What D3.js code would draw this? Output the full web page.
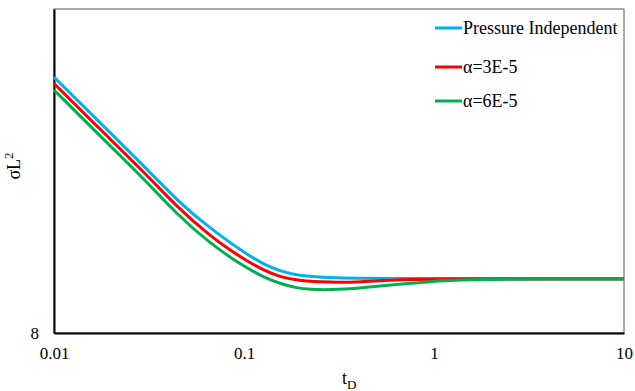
<!DOCTYPE html>
<html>
<head>
<meta charset="utf-8">
<script src="https://cdn.jsdelivr.net/npm/d3@7"></script>
<style>
  body { margin: 0; background: #fff; }
  svg text { font-family: "Liberation Serif", "Times New Roman", serif; fill: #000; }
</style>
</head>
<body>
<div id="wrapper"></div>
<script>
// DATA
const seriesNames = ["Pressure Independent", "\u03b1=3E-5", "\u03b1=6E-5"]
const seriesColors = ["#00b0f0", "#ff0000", "#00b050"]

const tBlue = [0.01, 0.0175, 0.0294, 0.046, 0.066, 0.0844, 0.104, 0.126, 0.155, 0.19, 0.284, 0.662, 10]
const vBlue = [49.3, 35.6, 26.4, 20.1, 16.9, 15.2, 14.0, 13.06, 12.43, 12.04, 11.82, 11.78, 11.78]

const tRed = [0.01, 0.0175, 0.0294, 0.046, 0.066, 0.0844, 0.104, 0.126, 0.155, 0.19, 0.284, 0.408, 0.662, 1.21, 10]
const vRed = [47.1, 34.0, 25.3, 19.2, 16.0, 14.4, 13.35, 12.52, 11.91, 11.62, 11.45, 11.5, 11.7, 11.74, 11.74]

const tGreen = [0.01, 0.0175, 0.0294, 0.046, 0.066, 0.0844, 0.104, 0.126, 0.155, 0.19, 0.222, 0.284, 0.408, 0.662, 1.21, 2.22, 10]
const vGreen = [45.0, 32.4, 24.1, 18.2, 15.2, 13.7, 12.7, 11.91, 11.37, 11.0, 10.9, 10.86, 11.0, 11.33, 11.66, 11.74, 11.74]

const xTicks = [0.01, 0.1, 1, 10]
const xTickLabels = ["0.01", "0.1", "1", "10"]
const yTicks = [8]
const yDomain = [8, 80]

// DIMENSIONS
const width = 635
const height = 391
const margin = { top: 9, right: 11, bottom: 58, left: 54 }
const boundedWidth = width - margin.left - margin.right
const boundedHeight = height - margin.top - margin.bottom
const serif = "'Liberation Serif', 'Times New Roman', serif"

const svg = d3.select("#wrapper").append("svg")
  .attr("width", width)
  .attr("height", height)

const bounds = svg.append("g")
  .attr("transform", `translate(${margin.left},${margin.top})`)

// SCALES
const xScale = d3.scaleLog().domain([0.01, 10]).range([0, boundedWidth])
const yScale = d3.scaleLog().domain(yDomain).range([boundedHeight, 0])

// FRAME
bounds.append("rect")
  .attr("width", boundedWidth)
  .attr("height", boundedHeight)
  .attr("fill", "none")
  .attr("stroke", "#555")
  .attr("stroke-width", 1)

// AXES
const xAxis = bounds.append("g")
  .attr("transform", `translate(0,${boundedHeight})`)
  .attr("font-family", serif)
  .call(d3.axisBottom(xScale).tickValues(xTicks).tickSize(0).tickPadding(14)
    .tickFormat((d, i) => xTickLabels[i]))
xAxis.select(".domain").attr("stroke", "#000").attr("stroke-width", 2)
xAxis.selectAll("text").style("font-size", "17px").style("font-family", serif)

const yAxis = bounds.append("g")
  .attr("font-family", serif)
  .call(d3.axisLeft(yScale).tickValues(yTicks).tickSize(0).tickPadding(15)
    .tickFormat(d3.format("d")))
yAxis.select(".domain").attr("stroke", "#000").attr("stroke-width", 2)
yAxis.selectAll("text").style("font-size", "17px").style("font-family", serif)

// LABELS
const xLabel = svg.append("text")
  .attr("x", 342)
  .attr("y", 384)
  .style("font-family", serif)
  .style("font-size", "18px")
xLabel.append("tspan").text("t")
xLabel.append("tspan").attr("dy", 5).style("font-size", "13px").text("D")

const yLabel = svg.append("text")
  .attr("transform", "translate(20,166) rotate(-90)")
  .attr("text-anchor", "middle")
  .style("font-family", serif)
  .style("font-size", "18px")
yLabel.append("tspan").text("\u03c3L")
yLabel.append("tspan").attr("dy", -7).style("font-size", "13px").text("2")

// LINES
const series = [
  { t: tBlue, v: vBlue },
  { t: tRed, v: vRed },
  { t: tGreen, v: vGreen }
]

const line = d3.line()
  .x(d => xScale(d[0]))
  .y(d => yScale(d[1]))
  .curve(d3.curveBasis)

series.forEach((s, i) => {
  bounds.append("path")
    .datum(s.t.map((t, j) => [t, s.v[j]]))
    .attr("d", line)
    .attr("fill", "none")
    .attr("stroke", seriesColors[i])
    .attr("stroke-width", 3)
})

// LEGEND
const legendY = [28, 67, 101]
const legend = svg.append("g")
seriesNames.forEach((name, i) => {
  legend.append("line")
    .attr("x1", 435).attr("x2", 462)
    .attr("y1", legendY[i]).attr("y2", legendY[i])
    .attr("stroke", seriesColors[i])
    .attr("stroke-width", 3)
  legend.append("text")
    .attr("x", 463)
    .attr("y", legendY[i] + 6)
    .style("font-family", serif)
    .style("font-size", "18px")
    .text(name)
})
</script>
</body>
</html>
